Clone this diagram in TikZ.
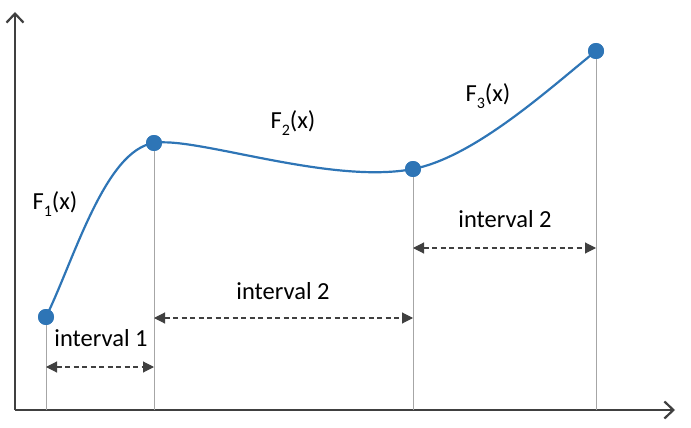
\documentclass[tikz,border=0pt]{standalone}
\usepackage{fontspec}
\setmainfont{Carlito}
\usetikzlibrary{arrows.meta}
\definecolor{ptblue}{HTML}{2E75B6}
\definecolor{axisgray}{HTML}{404040}
\definecolor{guidegray}{HTML}{A6A6A6}
\newcommand{\sbs}[1]{\raisebox{-0.28em}{\fontsize{16}{16}\selectfont #1}}
\tikzset{
  pt/.style={circle,fill=ptblue,inner sep=0pt,minimum size=16pt},
  axisline/.style={draw=axisgray,line width=2.6pt,-{Straight Barb[length=9pt,width=17pt,line width=2.2pt]}},
  guide/.style={draw=guidegray,line width=0.9pt},
  span/.style={draw=axisgray,line width=1.1pt,dash pattern=on 5pt off 3.5pt,{Triangle[length=11pt,width=11pt]}-{Triangle[length=11pt,width=11pt]}},
  lbl/.style={font=\fontsize{24.5}{28}\selectfont,text=black,inner sep=0pt},
  curve/.style={draw=ptblue,line width=2.2pt}
}
\begin{document}
\begin{tikzpicture}[x=1pt,y=-1pt]
\useasboundingbox (0,0) rectangle (691,428);
% axes
\coordinate (O) at (15,410);
\coordinate (Ytop) at (15,12);
\coordinate (Xend) at (675,410);
\draw[axisline] (O) -- (Ytop);
\draw[axisline] (O) -- (Xend);
% points
\node[pt] (p1) at (46,317) {};
\node[pt] (p2) at (154,143) {};
\node[pt] (p3) at (413,169) {};
\node[pt] (p4) at (596,51) {};
% bottoms
\coordinate (b1) at (46,410);
\coordinate (b2) at (154,410);
\coordinate (b3) at (413,410);
\coordinate (b4) at (596,410);
\draw[guide] (p1.center) -- (b1);
\draw[guide] (p2.center) -- (b2);
\draw[guide] (p3.center) -- (b3);
\draw[guide] (p4.center) -- (b4);
% curve
\draw[curve] (p1.center) .. controls (74,260) and (105,150) .. (p2.center)
  .. controls (195,136) and (330,185) .. (p3.center)
  .. controls (475,157) and (550,88) .. (p4.center);
\node[pt] at (p1) {};
\node[pt] at (p2) {};
\node[pt] at (p3) {};
\node[pt] at (p4) {};
% interval arrows
\coordinate (i1a) at (46,367);
\coordinate (i1b) at (154,367);
\coordinate (i2a) at (154,318);
\coordinate (i2b) at (413,318);
\coordinate (i3a) at (413,248);
\coordinate (i3b) at (596,248);
\draw[span] (i1a) -- (i1b);
\draw[span] (i2a) -- (i2b);
\draw[span] (i3a) -- (i3b);
% labels
\node[lbl] (l1) at (101,338) {interval 1};
\node[lbl] (l2) at (283,291) {interval 2};
\node[lbl] (l3) at (505,219) {interval 2};
\node[lbl] (f1) at (55,204) {F\sbs{1}(x)};
\node[lbl] (f2) at (293,123) {F\sbs{2}(x)};
\node[lbl] (f3) at (488,96) {F\sbs{3}(x)};
\end{tikzpicture}
\end{document}
